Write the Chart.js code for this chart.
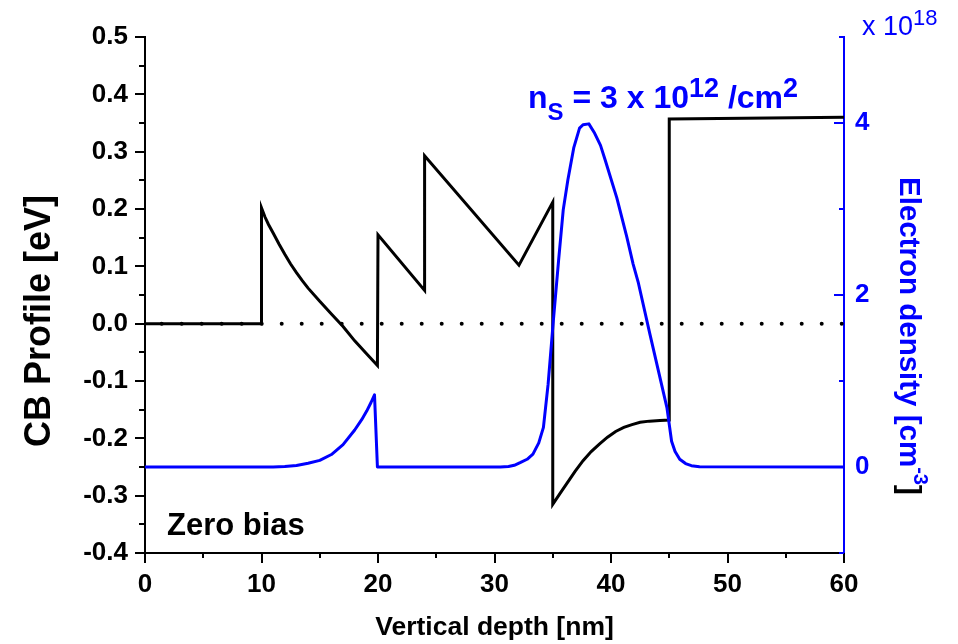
<!DOCTYPE html>
<html><head><meta charset="utf-8">
<script src="https://cdn.jsdelivr.net/npm/chart.js@4/dist/chart.umd.min.js"></script>
<style>html,body{margin:0;padding:0;background:#fff;}#wrap{width:958px;height:644px;}</style>
</head><body><div id="wrap"><canvas id="c" width="958" height="644"></canvas></div>
<script>
// ---- data ----
const cbDepth  = [0, 10, 10, 10.3, 10.6, 11, 11.5, 12, 12.5, 13, 13.5, 14, 15, 16, 17, 18, 19, 19.95, 20, 24, 24, 32.1, 35, 35, 35.6, 36.2, 36.9, 37.6, 38.3, 39.0, 39.7, 40.4, 41.1, 41.8, 42.5, 43.3, 44.2, 45, 45, 60];
const cbEnergy = [0, 0, 0.202, 0.186, 0.173, 0.158, 0.139, 0.121, 0.104, 0.089, 0.075, 0.062, 0.039, 0.017, -0.005, -0.030, -0.052, -0.073, 0.155, 0.058, 0.293, 0.102, 0.212, -0.315, -0.297, -0.279, -0.258, -0.239, -0.223, -0.210, -0.198, -0.188, -0.181, -0.176, -0.172, -0.170, -0.169, -0.168, 0.357, 0.360];
const nDepth   = [0, 11, 12, 13, 14, 15, 16, 17, 18, 18.6, 19.03, 19.4, 19.7, 19.95, 30.5, 31.2, 31.7, 32.2, 32.8, 33.3, 33.8, 34.2, 34.6, 35.05, 35.5, 35.9, 36.3, 36.8, 37.3, 37.6, 38.1, 38.6, 39.1, 39.5, 40.5, 41.35, 41.9, 42.35, 43.35, 44.8, 45.2, 45.5, 45.9, 46.4, 46.9, 47.6, 60];
const nDensity = [0, 0.001, 0.005, 0.018, 0.043, 0.077, 0.145, 0.26, 0.43, 0.55, 0.65, 0.75, 0.84, 0, 0, 0.006, 0.02, 0.05, 0.09, 0.15, 0.28, 0.46, 0.96, 1.70, 2.40, 2.99, 3.34, 3.71, 3.94, 3.98, 3.99, 3.88, 3.74, 3.57, 3.13, 2.68, 2.36, 2.14, 1.54, 0.69, 0.30, 0.18, 0.09, 0.04, 0.015, 0.004, 0];
const zeroDepth = [0, 60];
const zeroLevel = [0, 0];
const xTickValues = [0, 10, 20, 30, 40, 50, 60];
const leftTickValues = [-0.4, -0.3, -0.2, -0.1, 0.0, 0.1, 0.2, 0.3, 0.4, 0.5];
const rightTickValues = [0, 2, 4];
const xMinorValues = [5, 15, 25, 35, 45, 55];
const leftMinorValues = [-0.35, -0.25, -0.15, -0.05, 0.05, 0.15, 0.25, 0.35, 0.45];
const rightMinorValues = [-1, 1, 3, 5];

const BLUE = '#0000ff';
const FAM = '"Liberation Sans", Arial, sans-serif';
const pts = (xs, ys) => xs.map((x, i) => ({x: x, y: ys[i]}));

const decor = {
  id: 'decor',
  afterDraw(chart) {
    const {ctx, scales: {x, y, y2}} = chart;
    const ca = chart.chartArea;
    ctx.save();
    ctx.lineWidth = 2;
    ctx.strokeStyle = '#000';
    ctx.beginPath();
    leftTickValues.forEach(v => { const p = Math.round(y.getPixelForValue(v)); ctx.moveTo(ca.left - 10, p); ctx.lineTo(ca.left, p); });
    leftMinorValues.forEach(v => { const p = Math.round(y.getPixelForValue(v)); ctx.moveTo(ca.left - 6, p); ctx.lineTo(ca.left, p); });
    xTickValues.forEach(v => { const p = Math.round(x.getPixelForValue(v)); ctx.moveTo(p, ca.bottom); ctx.lineTo(p, ca.bottom + 10); });
    xMinorValues.forEach(v => { const p = Math.round(x.getPixelForValue(v)); ctx.moveTo(p, ca.bottom); ctx.lineTo(p, ca.bottom + 5); });
    ctx.stroke();
    ctx.strokeStyle = BLUE;
    ctx.beginPath();
    rightTickValues.forEach(v => { const p = Math.round(y2.getPixelForValue(v)); ctx.moveTo(ca.right - 10, p); ctx.lineTo(ca.right, p); });
    rightMinorValues.forEach(v => { const p = Math.round(y2.getPixelForValue(v)); ctx.moveTo(ca.right - 5, p); ctx.lineTo(ca.right, p); });
    ctx.stroke();

    function run(parts, x0, y0) {
      let xx = x0;
      parts.forEach(pr => {
        ctx.font = pr.f;
        ctx.fillStyle = pr.c;
        ctx.fillText(pr.t, xx, y0 + (pr.dy || 0));
        xx += ctx.measureText(pr.t).width;
      });
    }
    ctx.textBaseline = 'alphabetic';
    ctx.textAlign = 'left';
    const B32 = 'bold 32px ' + FAM, B24 = 'bold 24px ' + FAM, B27 = 'bold 27px ' + FAM;
    run([
      {t: 'n', f: B32, c: BLUE},
      {t: 'S', f: B24, c: BLUE, dy: 12},
      {t: ' = 3 x 10', f: B32, c: BLUE},
      {t: '12', f: B27, c: BLUE, dy: -11},
      {t: ' /cm', f: B32, c: BLUE},
      {t: '2', f: B27, c: BLUE, dy: -11}
    ], 528, 108);
    run([{t: 'Zero bias', f: 'bold 31px ' + FAM, c: '#000'}], 167, 535);
    run([
      {t: 'x 10', f: '27px ' + FAM, c: BLUE},
      {t: '18', f: '22px ' + FAM, c: BLUE, dy: -10}
    ], 862, 35);
    // left axis title (reads bottom to top)
    ctx.save();
    ctx.translate(50, 321);
    ctx.rotate(-Math.PI / 2);
    ctx.font = 'bold 36px ' + FAM;
    ctx.fillStyle = '#000';
    ctx.textAlign = 'center';
    ctx.fillText('CB Profile [eV]', 0, 0);
    ctx.restore();
    // right axis title (reads top to bottom)
    ctx.translate(900, 177);
    ctx.rotate(Math.PI / 2);
    run([
      {t: 'Electron density [cm', f: 'bold 29.5px ' + FAM, c: BLUE},
      {t: '-3', f: 'bold 20px ' + FAM, c: BLUE, dy: -14},
      {t: ']', f: 'bold 29.5px ' + FAM, c: '#000'}
    ], 0, 0);
    ctx.restore();
  }
};

new Chart(document.getElementById('c'), {
  type: 'scatter',
  data: {
    datasets: [
      {label: 'n', data: pts(nDepth, nDensity), yAxisID: 'y2', showLine: true, borderColor: BLUE, borderWidth: 3, pointRadius: 0, tension: 0, order: 0, borderJoinStyle: 'round'},
      {label: 'CB', data: pts(cbDepth, cbEnergy), yAxisID: 'y', showLine: true, borderColor: '#000', borderWidth: 3, pointRadius: 0, tension: 0, order: 1, borderJoinStyle: 'miter'},
      {label: 'zero', data: pts(zeroDepth, zeroLevel), yAxisID: 'y', showLine: true, borderColor: '#000', borderWidth: 4, borderDash: [0, 20], borderDashOffset: 3.3, borderCapStyle: 'round', pointRadius: 0, order: 2}
    ]
  },
  options: {
    responsive: false,
    animation: false,
    devicePixelRatio: 1,
    layout: {padding: {top: 37, left: 0, right: 0, bottom: 0}},
    plugins: {legend: {display: false}, tooltip: {enabled: false}},
    scales: {
      x: {
        type: 'linear', position: 'bottom', min: 0, max: 60,
        afterBuildTicks: s => { s.ticks = xTickValues.map(v => ({value: v})); },
        afterFit: s => { s.height = 91; },
        grid: {display: false, drawTicks: false},
        border: {display: true, color: '#000', width: 2},
        ticks: {color: '#000', font: {family: FAM, size: 26, weight: 'bold'}, padding: 16, maxRotation: 0},
        title: {display: true, text: 'Vertical depth [nm]', color: '#000', font: {family: FAM, size: 26.5, weight: 'bold'}, padding: {top: 0, bottom: 0}}
      },
      y: {
        type: 'linear', position: 'left', min: -0.4, max: 0.5,
        afterBuildTicks: s => { s.ticks = leftTickValues.map(v => ({value: v})); },
        afterFit: s => { s.width = 145; },
        grid: {display: false, drawTicks: false},
        border: {display: true, color: '#000', width: 2},
        ticks: {color: '#000', font: {family: FAM, size: 26, weight: 'bold'}, padding: 17, callback: v => Number(v).toFixed(1)}
      },
      y2: {
        type: 'linear', position: 'right', min: -1, max: 5,
        afterBuildTicks: s => { s.ticks = rightTickValues.map(v => ({value: v})); },
        afterFit: s => { s.width = 114; },
        grid: {display: false, drawTicks: false},
        border: {display: true, color: BLUE, width: 2},
        ticks: {color: BLUE, font: {family: FAM, size: 26, weight: 'bold'}, padding: 11}
      }
    }
  },
  plugins: [decor]
});
</script></body></html>
